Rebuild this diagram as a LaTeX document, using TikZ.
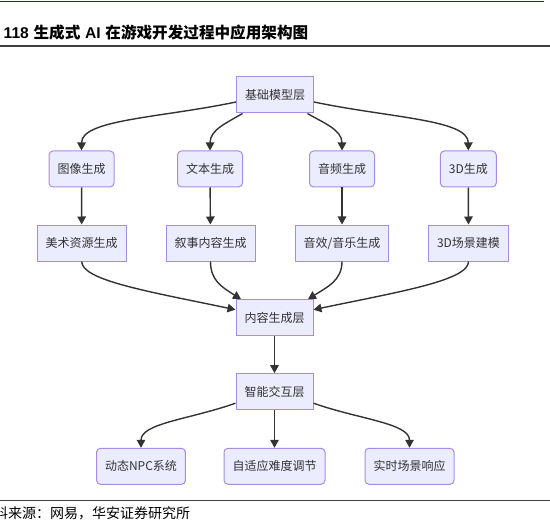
\documentclass[tikz,border=0pt]{standalone}
\usepackage{fontspec}
\usetikzlibrary{arrows.meta,positioning,calc}
\newfontfamily\cjk{Noto Sans CJK SC}
\newfontfamily\latinfont{Liberation Sans}
\definecolor{Ink}{HTML}{333333}
\definecolor{NodeFill}{HTML}{ECECFF}
\definecolor{NodeLine}{HTML}{A68CE2}
\definecolor{Navy}{HTML}{1F2E5C}
\definecolor{Rule}{HTML}{404040}

\begin{document}
\begin{tikzpicture}[x=1bp,y=-1bp,>={Triangle[length=8bp,width=8.5bp]},
  box/.style={draw=NodeLine,fill=NodeFill,line width=1bp,text=Ink,
    font=\cjk\fontsize{12bp}{14bp}\selectfont,minimum height=36bp,
    inner xsep=8.5bp,inner ysep=0pt},
  rbox/.style={box,rounded corners=4bp},
  link/.style={->,draw=Ink,line width=1.4bp}]
\useasboundingbox (0,0) rectangle (550,526);
% header and footer rules
\draw[Navy,line width=1.1bp] (0,1.5) -- (544,1.5);
\node[anchor=west,inner sep=0pt,font=\fontsize{15.6bp}{17bp}\selectfont] (title) at (3.5,33)
  {{\latinfont\bfseries 118} {\cjk\bfseries 生成式} {\latinfont\bfseries AI} {\cjk\bfseries 在游戏开发过程中应用架构图}};
\draw[Rule,line width=1.3bp] (0,46) -- (550,46);
\draw[Rule,line width=1bp] (0,500) -- (550,500);
\node[anchor=west,inner sep=0pt,font=\cjk\fontsize{14bp}{16bp}\selectfont] (source) at (-20,513.5) {资料来源：网易，华安证券研究所};
% layers
\node[box] (base) at (275,95) {基础模型层};
\node[rbox] (img) at (81.5,169) {图像生成};
\node[rbox] (txt) at (210,169) {文本生成};
\node[rbox] (aud) at (342,169) {音频生成};
\node[rbox] (tdg) at (468.3,169) {3D生成};
\node[box] (art) at (81.7,243) {美术资源生成};
\node[box] (story) at (210.5,243) {叙事内容生成};
\node[box] (sfx) at (342,243) {音效/音乐生成};
\node[box] (scene) at (468.5,243) {3D场景建模};
\node[box] (content) at (274.5,317.7) {内容生成层};
\node[box] (inter) at (274.5,391.7) {智能交互层};
\node[rbox] (npc) at (141,466.3) {动态NPC系统};
\node[rbox] (diff) at (274.5,466.3) {自适应难度调节};
\node[rbox] (resp) at (409.5,466.3) {实时场景响应};
% connectors
\draw[link] ([yshift=-7bp]base.west) .. controls +(-76.5,16) and +(0,-31) .. (img.north);
\draw[link] ([xshift=6.5bp]base.south west) .. controls +(-15,9) and +(0,-21) .. (txt.north);
\draw[link] ([xshift=-6.5bp]base.south east) .. controls +(15,9) and +(0,-21) .. (aud.north);
\draw[link] ([yshift=-7bp]base.east) .. controls +(76.5,16) and +(0,-31) .. (tdg.north);
\draw[link] (img) -- (art);
\draw[link] (txt) -- (story);
\draw[link] (aud) -- (sfx);
\draw[link] (tdg) -- (scene);
\draw[link] (art.south) .. controls +(0,19) and +(-85.7,-18) .. ([yshift=8bp]content.west);
\draw[link] (story.south) .. controls +(0,19) and +(-19,-12) .. ([xshift=5.5bp]content.north west);
\draw[link] (sfx.south) .. controls +(0,19) and +(19,-12) .. ([xshift=-5.5bp]content.north east);
\draw[link] (scene.south) .. controls +(0,19) and +(85.7,-18) .. ([yshift=8bp]content.east);
\draw[link] (content) -- (inter);
\draw[link] ([yshift=-11.5bp]inter.west) .. controls +(-45,16) and +(0,-24.7) .. (npc.north);
\draw[link] (inter) -- (diff);
\draw[link] ([yshift=-11.5bp]inter.east) .. controls +(45,16) and +(0,-24.7) .. (resp.north);
\end{tikzpicture}
\end{document}
